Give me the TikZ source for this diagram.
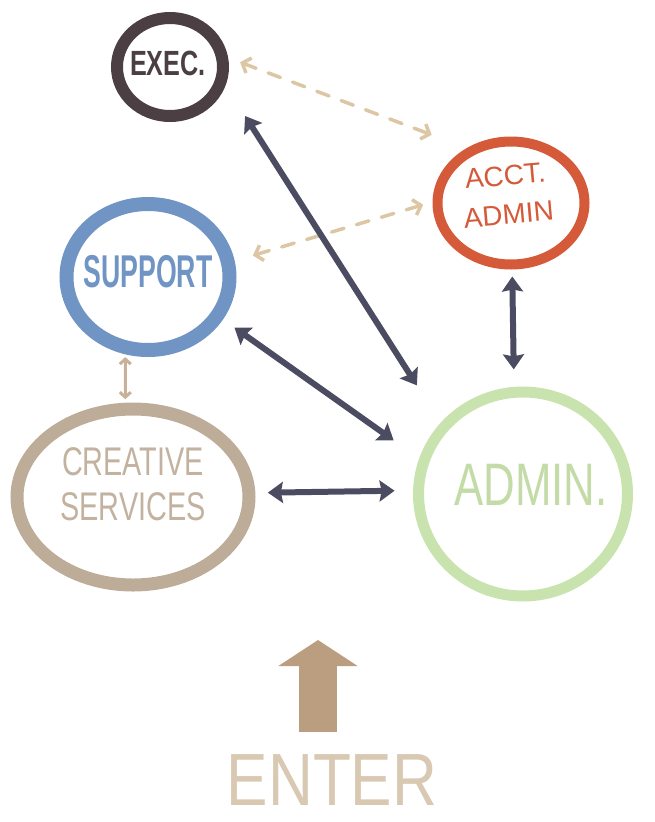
\documentclass[tikz,border=0pt]{standalone}
\usepackage{fontspec}
\setmainfont{Liberation Sans}
\usetikzlibrary{shapes.geometric,arrows.meta}
\definecolor{execc}{HTML}{4B3F44}
\definecolor{acctc}{HTML}{D45A3A}
\definecolor{suppc}{HTML}{7095C4}
\definecolor{creac}{HTML}{BDAC97}
\definecolor{creat}{HTML}{C2B29F}
\definecolor{admc}{HTML}{C8E3AE}
\definecolor{admt}{HTML}{C3DBA6}
\definecolor{navy}{HTML}{4B4C62}
\definecolor{dashtan}{HTML}{DCC6A4}
\definecolor{entc}{HTML}{BB9D80}
\definecolor{entt}{HTML}{D9C8B2}
\begin{document}
\begin{tikzpicture}[x=1pt,y=-1pt,
  ring/.style={draw,ellipse,inner sep=0pt,outer sep=0pt},
  darr/.style={draw=navy,line width=6pt,
    {Stealth[length=15pt,width=21pt,inset=2pt]}-{Stealth[length=15pt,width=21pt,inset=2pt]}},
  dasharr/.style={draw=dashtan,line width=3.5pt,line cap=round,dash pattern=on 13pt off 13pt,
    {Straight Barb[length=7pt,width=16pt]}-{Straight Barb[length=7pt,width=16pt]}},
  smallarr/.style={draw=entc!80,line width=3pt,
    {Straight Barb[length=5pt,width=11pt]}-{Straight Barb[length=5pt,width=11pt]}},
  lbl/.style={inner sep=0pt,outer sep=0pt}]
\useasboundingbox (0,0) rectangle (654,822);

% rings
\node[ring,draw=execc,line width=12pt,minimum width=106pt,minimum height=98pt] (exec) at (170,67) {};
\node[ring,draw=acctc,line width=10pt,minimum width=147pt,minimum height=123pt] (acct) at (511,203) {};
\node[ring,draw=suppc,line width=14pt,minimum width=163pt,minimum height=146pt] (supp) at (148,277) {};
\node[ring,draw=creac,line width=13pt,minimum width=232pt,minimum height=176pt] (crea) at (133,497) {};
\node[ring,draw=admc,line width=11pt,minimum width=209pt,minimum height=204pt] (admin) at (523,494) {};

% labels
\node[lbl,text=execc,font=\fontsize{35}{35}\selectfont\bfseries] (exect) at (168,63)
  {\scalebox{0.72}[1]{EXEC.}};
\node[lbl,text=acctc,rotate=5,align=center,font=\fontsize{28}{39}\selectfont] (acctt) at (507,195)
  {ACCT.\\ADMIN};
\node[lbl,text=suppc,font=\fontsize{46}{46}\selectfont\bfseries] (suppt) at (148,272)
  {\scalebox{0.58}[1]{SUPPORT}};
\node[lbl,text=creat,align=center,font=\fontsize{40}{45}\selectfont] (creat) at (133,484)
  {\scalebox{0.72}[1]{CREATIVE}\\\scalebox{0.72}[1]{SERVICES}};
\node[lbl,text=admt,font=\fontsize{60}{60}\selectfont] (admint) at (531,485)
  {\scalebox{0.73}[1]{ADMIN.}};

% dashed connectors
\draw[dasharr,shorten <=20pt,shorten >=44pt] (exec.13) -- (acct.126);
\draw[dasharr,shorten <=26pt,shorten >=15pt] (supp.10) -- (acct.178);

% solid connectors
\draw[darr,shorten <=44pt,shorten >=50pt] (exec.-13) -- (admin.140);
\draw[darr,shorten <=21pt,shorten >=37pt] (supp.-29) -- (admin.162);
\draw[darr,shorten <=19pt,shorten >=24pt] (crea.2) -- (admin.178);
\draw[darr,shorten <=12pt,shorten >=23pt] (acct.-89) -- (admin.95.6);
\draw[smallarr,shorten <=10pt,shorten >=10pt] (supp.-108) -- (crea.95);

% enter
\node[lbl,text=entt,font=\fontsize{74}{74}\selectfont] (enter) at (332,780)
  {\scalebox{0.84}[1]{ENTER}};
\coordinate (entip) at (318,640);
\draw[entc,line width=38pt,shorten <=23pt,-{Triangle[length=26pt,width=78pt]}]
  (enter.north -| entip) -- (entip);
\end{tikzpicture}
\end{document}
